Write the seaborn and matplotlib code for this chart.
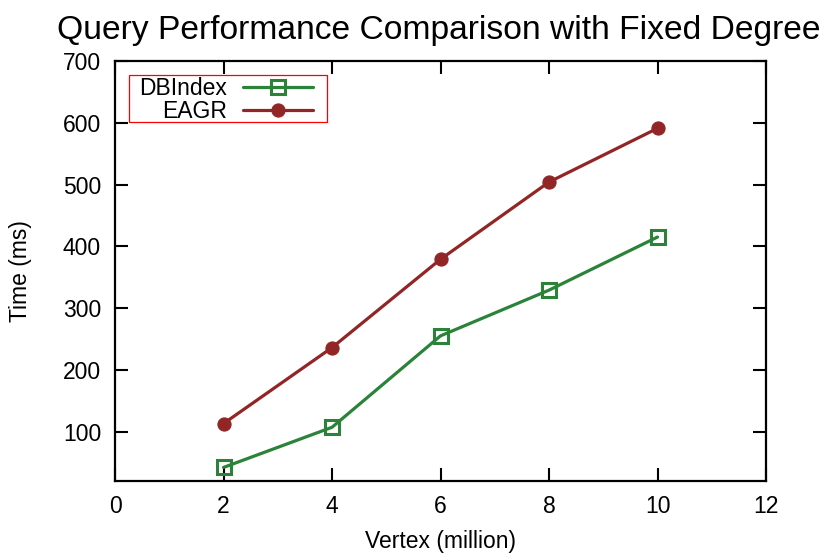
import matplotlib
matplotlib.use("Agg")
import matplotlib.pyplot as plt
from matplotlib.patches import Rectangle
import seaborn as sns
import pandas as pd

vertex = [2, 4, 6, 8, 10]
dbindex = [42, 107, 255, 329, 415]
eagr = [113, 236, 379, 504, 591]
series_names = ["DBIndex", "EAGR"]
x_ticks = [0, 2, 4, 6, 8, 10, 12]
y_ticks = [100, 200, 300, 400, 500, 600, 700]

sns.set_style("ticks")
plt.rcParams['font.family'] = ['Liberation Sans', 'DejaVu Sans']
plt.rcParams['text.color'] = 'black'
plt.rcParams['axes.labelcolor'] = 'black'
plt.rcParams['xtick.color'] = 'black'
plt.rcParams['ytick.color'] = 'black'

fig = plt.figure(figsize=(8.31, 5.59), dpi=100)
ax = fig.add_axes([0.1384, 0.1395, 0.7834, 0.7514])

df_db = pd.DataFrame({"Vertex": vertex, "Time": dbindex})
df_ea = pd.DataFrame({"Vertex": vertex, "Time": eagr})

green = "#2a8339"
red = "#922525"

sns.lineplot(data=df_db, x="Vertex", y="Time", ax=ax, color=green, linewidth=2.3,
             marker="s", markersize=10, markerfacecolor="none",
             markeredgecolor=green, markeredgewidth=2.2, label=series_names[0])
sns.lineplot(data=df_ea, x="Vertex", y="Time", ax=ax, color=red, linewidth=2.3,
             marker="o", markersize=9.5, markerfacecolor=red,
             markeredgecolor=red, label=series_names[1])

ax.set_xlim(0, 12)
ax.set_ylim(20, 700)
ax.set_xticks(x_ticks)
ax.set_yticks(y_ticks)
ax.tick_params(direction="in", length=9.5, width=1.5, top=True, right=True,
               labelsize=16.5, pad=10, colors="black")
for s in ax.spines.values():
    s.set_visible(True)
    s.set_linewidth(1.6)
    s.set_color("black")

ax.set_xlabel("Vertex (million)", fontsize=16.5, labelpad=9, color="black")
ax.set_ylabel("Time (ms)", fontsize=16.5, labelpad=22, color="black")
fig.suptitle("Query Performance Comparison with Fixed Degree", fontsize=24.2,
             x=0.5277, y=0.974, va="top", color="black")

leg = ax.legend(loc="upper right", bbox_to_anchor=(0.3041, 0.9619), borderaxespad=0,
                markerfirst=False, fontsize=16.5, frameon=False,
                handlelength=3.06, handletextpad=0.7, labelspacing=0.02,
                borderpad=0.0)
for t in leg.get_texts():
    t.set_color("black")

# legend frame (gnuplot-style red box)
ax.add_patch(Rectangle((0.0215, 0.8548), 0.3042, 0.1119, transform=ax.transAxes,
                       fill=False, edgecolor="red", linewidth=0.9, zorder=5))

fig.savefig("out.png", dpi=100)
